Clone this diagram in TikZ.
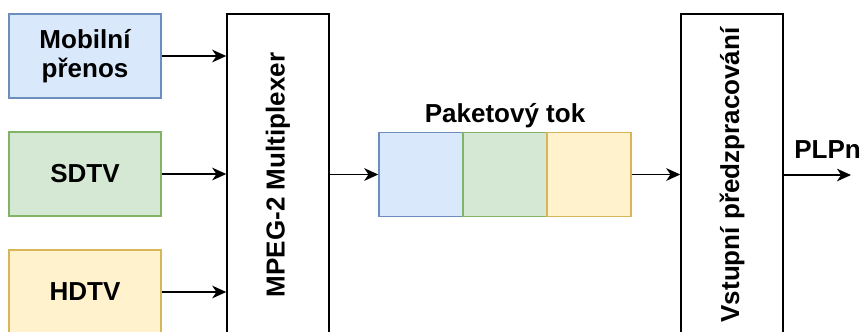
\documentclass[tikz,border=0pt]{standalone}
\usepackage{fontspec}
\setmainfont{Liberation Sans}
\usepackage{tikz}
\usetikzlibrary{arrows.meta}

\definecolor{bluefill}{HTML}{DAE8FC}
\definecolor{blueline}{HTML}{6C8EBF}
\definecolor{greenfill}{HTML}{D5E8D4}
\definecolor{greenline}{HTML}{82B366}
\definecolor{yellowfill}{HTML}{FFF2CC}
\definecolor{yellowline}{HTML}{D6B656}

\tikzset{
  every node/.style={font=\bfseries\fontsize{18.5}{20.5}\selectfont},
  srcbox/.style={draw, line width=1pt, minimum width=3.8cm, minimum height=2.1cm, align=center, inner sep=0pt},
  packet/.style={draw, line width=1pt, minimum width=2.1cm, minimum height=2.1cm, inner sep=0pt},
  tallbox/.style={draw, line width=1pt, minimum width=2.55cm, minimum height=8.05cm, inner sep=0pt},
  flow/.style={line width=1pt, -{Stealth[length=10pt, width=9pt, inset=3pt]}}
}

\begin{document}
\begin{tikzpicture}[x=0.025cm, y=-0.025cm]
    \useasboundingbox (0,0) rectangle (861,331);

    % zdroje
    \node[srcbox, fill=bluefill, draw=blueline] (mob) at (85,56) {Mobilní\\přenos};
    \node[srcbox, fill=greenfill, draw=greenline] (sd) at (85,174) {SDTV};
    \node[srcbox, fill=yellowfill, draw=yellowline] (hd) at (85,292) {HDTV};

    % multiplexer
    \node[tallbox] (mux) at (278,175) {};
    \node[rotate=90] (muxtext) at (mux.center) {MPEG-2 Multiplexer};

    % paketovy tok
    \node[packet, fill=bluefill, draw=blueline] (p1) at (421,174.5) {};
    \node[packet, fill=greenfill, draw=greenline] (p2) at (505,174.5) {};
    \node[packet, fill=yellowfill, draw=yellowline] (p3) at (589,174.5) {};
    \node (tok) at (505,116) {Paketový tok};

    % vstupni predzpracovani
    \node[tallbox] (vst) at (732,175) {};
    \node[rotate=90] (vsttext) at (vst.center) {Vstupní předzpracování};

    \coordinate (out) at (851,175);
    \node[anchor=base west, inner sep=0pt] (plp) at (794,158) {PLPn};

    \draw[flow] (mob.east) -- (mob.east -| mux.west);
    \draw[flow] (sd.east) -- (sd.east -| mux.west);
    \draw[flow] (hd.east) -- (hd.east -| mux.west);
    \draw[flow] (mux.east |- p1.west) -- (p1.west);
    \draw[flow] (p3.east) -- (p3.east -| vst.west);
    \draw[flow] (vst.east |- out) -- (out);
\end{tikzpicture}
\end{document}
